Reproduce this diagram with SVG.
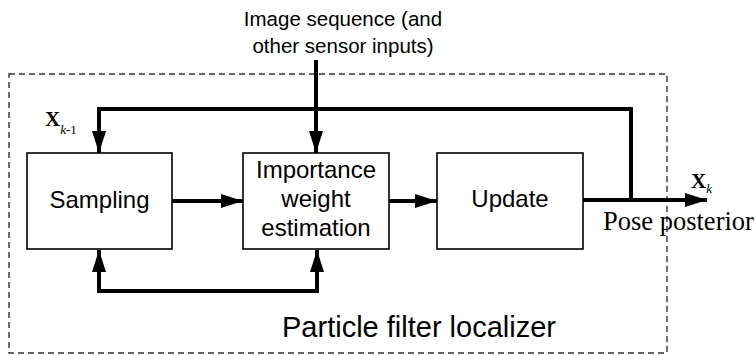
<svg xmlns="http://www.w3.org/2000/svg" width="756" height="355" viewBox="0 0 756 355">
  <style>
    .box { fill: #fff; stroke: #000; stroke-width: 1.6; }
    .frame { fill: none; stroke: #333; stroke-width: 1.4; stroke-dasharray: 6 4; }
    .conn { fill: none; stroke: #000; stroke-width: 4; stroke-linejoin: miter; }
    .sans { font-family: "Liberation Sans", Arial, sans-serif; fill: #000; }
    .serif { font-family: "Liberation Serif", "Times New Roman", serif; fill: #000; }
  </style>
  <defs>
    <marker id="arr" markerUnits="userSpaceOnUse" markerWidth="24" markerHeight="16" refX="22" refY="7" orient="auto-start-reverse">
      <path d="M0,0 L22,7 L0,14 Z" fill="#000"/>
    </marker>
  </defs>
  <rect class="frame" x="9" y="74" width="658" height="279"/>
  <g id="connectors">
    <path class="conn" d="M172,201 H243" marker-end="url(#arr)"/>
    <path class="conn" d="M389,201 H437" marker-end="url(#arr)"/>
    <path class="conn" d="M583,200 H707" marker-end="url(#arr)"/>
    <path class="conn" d="M631,200 V109 H99 V153" marker-end="url(#arr)"/>
    <path class="conn" d="M316,60 V153" marker-end="url(#arr)"/>
    <path class="conn" d="M99,250 V291 H317 V250" marker-start="url(#arr)" marker-end="url(#arr)"/>
  </g>
  <g id="sampling">
    <rect class="box" x="27" y="153" width="145" height="96"/>
    <text class="sans" x="99.5" y="208" font-size="24" text-anchor="middle">Sampling</text>
  </g>
  <g id="importance">
    <rect class="box" x="243" y="153" width="146" height="96"/>
    <text class="sans" x="316" font-size="24" text-anchor="middle"><tspan x="316" y="178">Importance</tspan><tspan x="316" y="207">weight</tspan><tspan x="316" y="236">estimation</tspan></text>
  </g>
  <g id="update">
    <rect class="box" x="437" y="153" width="146" height="96"/>
    <text class="sans" x="510" y="207" font-size="24" text-anchor="middle">Update</text>
  </g>
  <g id="labels">
    <text class="sans" font-size="20.5" text-anchor="middle"><tspan x="343" y="26">Image sequence (and</tspan><tspan x="343" y="53">other sensor inputs)</tspan></text>
    <text class="serif" x="45" y="126" font-size="21" font-weight="bold">X<tspan font-size="13" font-weight="normal" font-style="italic" dy="8">k</tspan><tspan font-size="13" font-weight="normal" dy="0">-1</tspan></text>
    <text class="serif" x="691" y="188" font-size="21" font-weight="bold">X<tspan font-size="13" font-weight="normal" font-style="italic" dy="5">k</tspan></text>
    <text class="serif" x="603" y="230" font-size="26.5">Pose posterior</text>
    <text class="sans" x="282" y="337" font-size="29">Particle filter localizer</text>
  </g>
</svg>
